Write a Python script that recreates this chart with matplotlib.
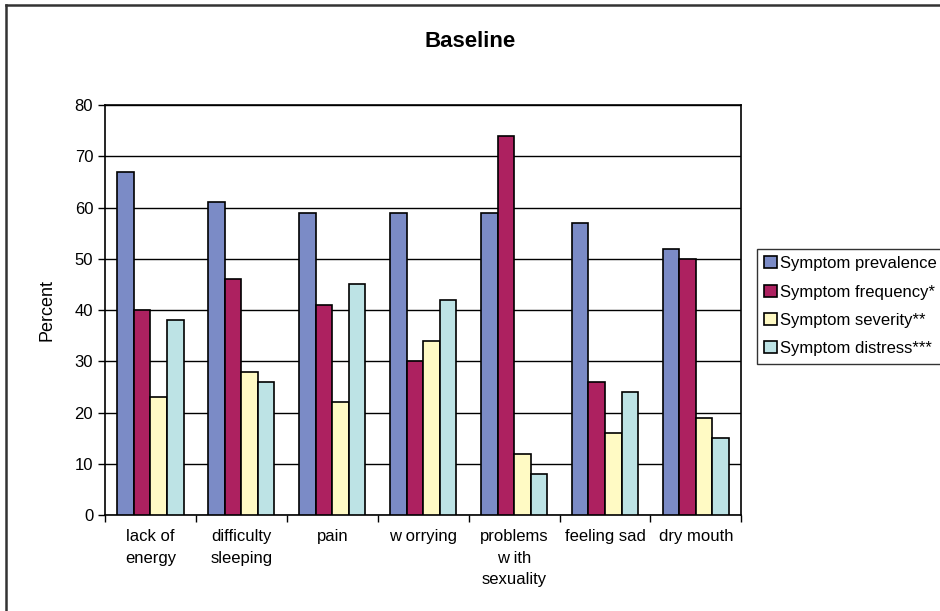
'''Baseline symptom bar chart'''

import numpy as np
import matplotlib.pyplot as plt
from matplotlib.lines import Line2D

plt.rcParams['font.family'] = ['Liberation Sans', 'DejaVu Sans']

### data
categories = ['lack of\nenergy', 'difficulty\nsleeping', 'pain', 'w orrying',
              'problems\nw ith\nsexuality', 'feeling sad', 'dry mouth']
series_names = ['Symptom prevalence', 'Symptom frequency*',
                'Symptom severity**', 'Symptom distress***']
prevalence = [67, 61, 59, 59, 59, 57, 52]
frequency = [40, 46, 41, 30, 74, 26, 50]
severity = [23, 28, 22, 34, 12, 16, 19]
distress = [38, 26, 45, 42, 8, 24, 15]
colors = ['#7B8BC6', '#AD2160', '#FFFAC4', '#BDE3E5']

### figure
fig = plt.figure(figsize=(9.4, 6.11), dpi=100)
ax = fig.add_axes([0.1117, 0.157, 0.677, 0.671])

x = np.arange(len(categories))
w = 1 / 5.5
for i, vals in enumerate([prevalence, frequency, severity, distress]):
    ax.bar(x + (i - 1.5) * w, vals, width=w, color=colors[i],
           edgecolor='black', linewidth=1.2, label=series_names[i], zorder=3)

ax.set_xlim(-0.5, len(categories) - 0.5)
ax.set_ylim(0, 80)
ax.set_yticks(np.arange(0, 81, 10))
ax.yaxis.grid(True, color='black', linewidth=1.0, zorder=0)
ax.set_xticks(x)
ax.set_xticklabels(categories, fontsize=12, linespacing=1.55)
ax.tick_params(axis='x', length=0, pad=10)
ax.set_xticks(np.arange(-0.5, len(categories), 1), minor=True)
ax.tick_params(axis='x', which='minor', length=5, width=1, direction='out')
ax.tick_params(axis='y', length=5, width=1, labelsize=12)
for s in ax.spines.values():
    s.set_linewidth(1.2)
ax.set_ylabel('Percent', fontsize=13, labelpad=14)

fig.text(0.5, 0.932, 'Baseline', ha='center', va='center',
         fontsize=16, fontweight='bold')

leg = fig.legend(loc='upper left', bbox_to_anchor=(0.805, 0.593),
                 fontsize=12, frameon=True, fancybox=False,
                 handlelength=0.75, handleheight=0.75, handletextpad=0.2,
                 labelspacing=0.8, borderpad=0.45, borderaxespad=0)
leg.get_frame().set_edgecolor('black')
leg.get_frame().set_linewidth(1.0)

#### outer chart border (only left and top visible, image is cropped)
fig.add_artist(Line2D([0.0065, 0.0065], [0, 0.992], transform=fig.transFigure,
                      color='#333333', linewidth=1.8))
fig.add_artist(Line2D([0.0065, 1], [0.992, 0.992], transform=fig.transFigure,
                      color='#333333', linewidth=1.8))

fig.savefig('out.png', dpi=100)
